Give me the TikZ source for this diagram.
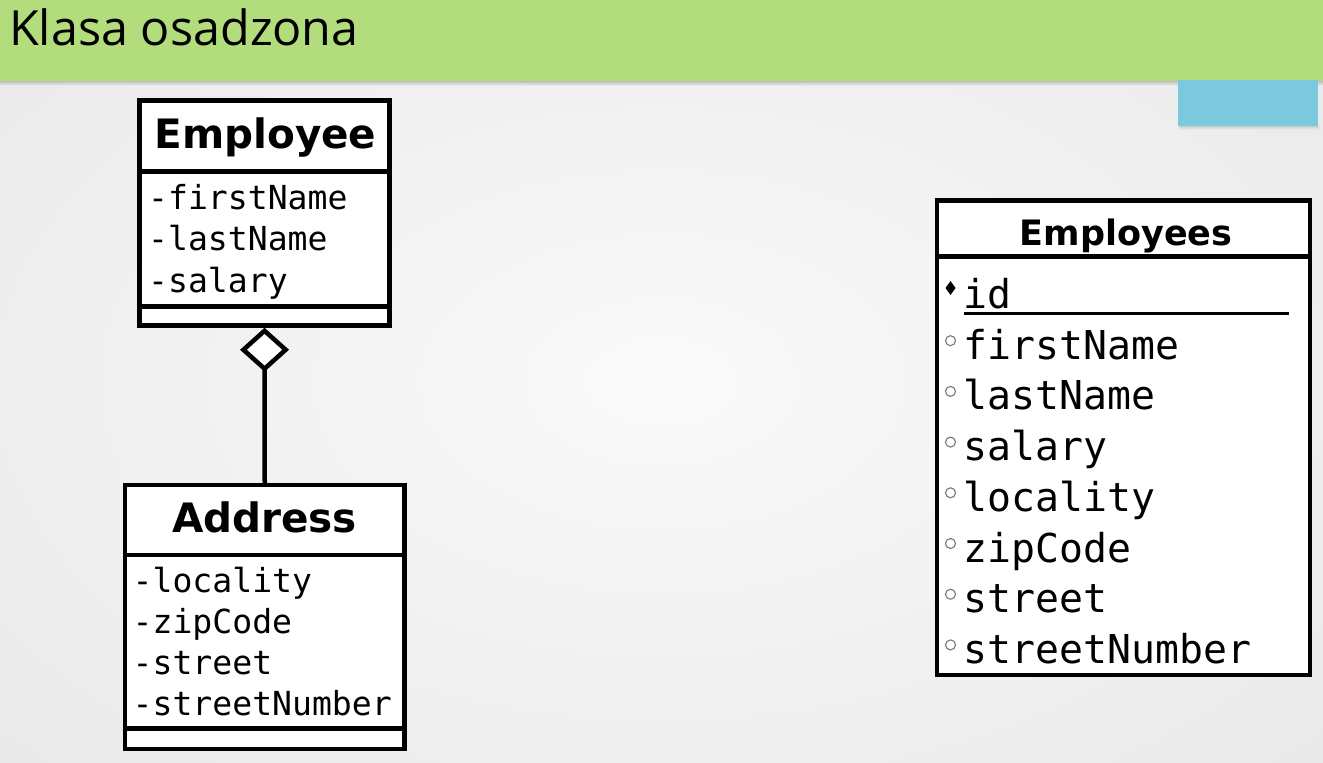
\documentclass[tikz,border=0pt]{standalone}
\usepackage{fontspec}
\usetikzlibrary{arrows.meta}
\newfontfamily\hdfont{DejaVu Sans}
\newfontfamily\attrfont{DejaVu Sans Mono}
\newfontfamily\slidefont{Open Sans}
\definecolor{bgin}{RGB}{250,250,250}
\definecolor{bgout}{RGB}{232,232,232}
\definecolor{bargreen}{RGB}{179,220,125}
\definecolor{barblue}{RGB}{124,201,221}
\definecolor{markgray}{RGB}{120,120,120}
\tikzset{
  classbox/.style={draw=black, fill=white, line width=4.5pt, rectangle, inner sep=0pt},
  sepline/.style={draw=black, line width=4.5pt},
  hd/.style={inner sep=0pt, anchor=base, font=\hdfont\bfseries\fontsize{40.5}{48}\selectfont},
  hdsmall/.style={inner sep=0pt, anchor=base, font=\hdfont\bfseries\fontsize{35}{42}\selectfont},
  attr/.style={inner sep=0pt, anchor=base west, font=\attrfont\fontsize{33.1}{40}\selectfont},
  row/.style={inner sep=0pt, anchor=base west, font=\attrfont\fontsize{39.8}{46}\selectfont},
  conn/.style={draw=black, line width=4.5pt},
  keymark/.style={fill=black},
  colmark/.style={draw=markgray, fill=white, line width=1.1pt},
}
\begin{document}
\begin{tikzpicture}[x=1pt,y=-1pt]
\useasboundingbox (0,0) rectangle (1323,763);
% background
\shade[inner color=bgin, outer color=bgout] (-300,-200) rectangle (1623,963);
% title bar
\shade[top color=black!30, bottom color=bgout] (0,80) rectangle (1323,85);
\fill[bargreen] (0,0) rectangle (1323,80.5);
\node[inner sep=0pt, anchor=base west, font=\slidefont\fontsize{48.5}{56}\selectfont] (title) at (9,45) {Klasa osadzona};
% blue tab
\shade[top color=black!20, bottom color=bgout] (1179,126) rectangle (1319,129);
\fill[barblue] (1178,80) rectangle (1318,126);

% Employee class
\node[classbox, minimum width=250pt, minimum height=225pt] (emp) at (264.5,213) {};
\draw[sepline] (emp.west |- 0,171.5) -- (emp.east |- 0,171.5);
\draw[sepline] (emp.west |- 0,306.5) -- (emp.east |- 0,306.5);
\node[hd] (empt) at (265.5,148) {Employee};
\node[attr] (e1) at (148,209) {-firstName};
\node[attr] (e2) at (148,250.5) {-lastName};
\node[attr] (e3) at (148,292) {-salary};

% Address class
\node[classbox, minimum width=279.5pt, minimum height=264pt] (addr) at (264.75,617) {};
\draw[sepline] (addr.west |- 0,555) -- (addr.east |- 0,555);
\draw[sepline] (addr.west |- 0,728.5) -- (addr.east |- 0,728.5);
\node[hd] (addrt) at (264.5,532.5) {Address};
\node[attr] (a1) at (132.5,592) {-locality};
\node[attr] (a2) at (132.5,633) {-zipCode};
\node[attr] (a3) at (132.5,674) {-street};
\node[attr] (a4) at (132.5,715) {-streetNumber};

% aggregation
\draw[conn, {Diamond[fill=white, length=44pt, width=49pt]}-] (emp.south) -- (addr.north);

% Employees table
\node[classbox, minimum width=373pt, minimum height=474.5pt] (tab) at (1123.5,437.75) {};
\draw[sepline] (tab.west |- 0,256.5) -- (tab.east |- 0,256.5);
\node[hdsmall] (tabt) at (1126,245.5) {Employees};
\node[row] (r0) at (963.5,308.5) {id};
\draw[line width=2.5pt] (964,313.5) -- (1289,313.5);
\fill[keymark] (950.5,281) -- (955.5,288) -- (950.5,295) -- (945.5,288) -- cycle;
\foreach \n/\t [count=\i] in {firstName,lastName,salary,locality,zipCode,street,streetNumber}{
  \node[row] (r\i) at (963.5,{308.5+50.7*\i}) {\n};
  \draw[colmark] (950.5,{290+50.7*\i}) circle (5pt);
}
\end{tikzpicture}
\end{document}
